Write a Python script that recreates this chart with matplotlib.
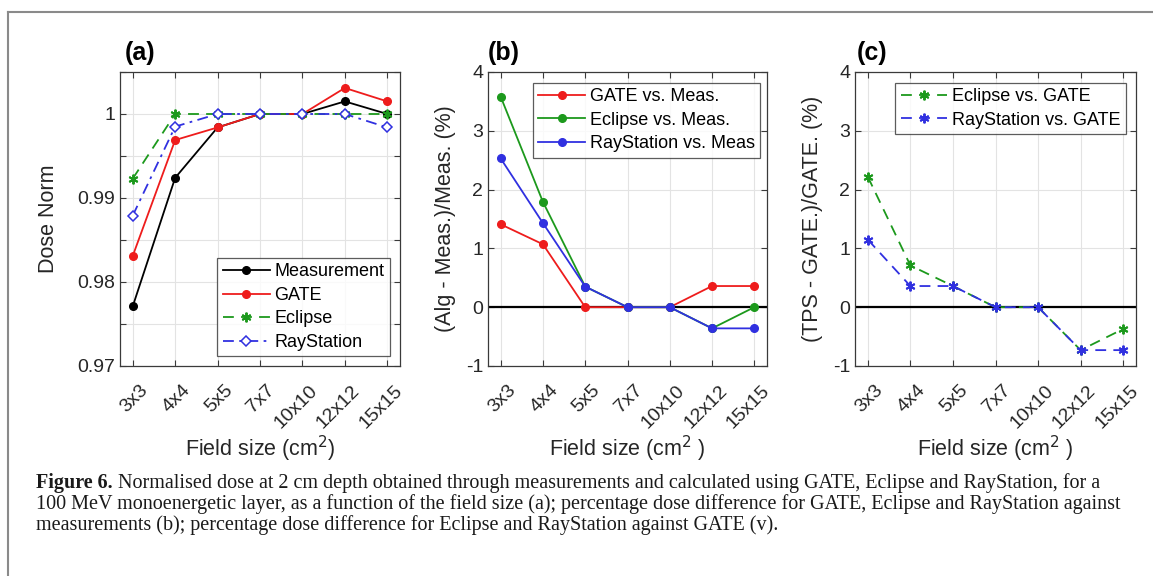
import matplotlib
matplotlib.use("Agg")
import matplotlib.pyplot as plt
from matplotlib.lines import Line2D
from matplotlib.transforms import ScaledTranslation
import numpy as np

plt.rcParams['font.family'] = ['Liberation Sans', 'DejaVu Sans']
plt.rcParams['axes.unicode_minus'] = False

categories = ['3x3', '4x4', '5x5', '7x7', '10x10', '12x12', '15x15']

# panel (a): normalised dose
a_measurement = [0.9771, 0.9924, 0.9984, 1.0, 1.0, 1.0015, 1.0]
a_gate = [0.9831, 0.9969, 0.9984, 1.0, 1.0, 1.0031, 1.0015]
a_eclipse = [0.9923, 1.0, 1.0, 1.0, 1.0, 1.0, 1.0]
a_raystation = [0.9879, 0.9985, 1.0, 1.0, 1.0, 1.0, 0.9984]

# panel (b): (Alg - Meas.)/Meas. (%)
b_gate = [1.41, 1.07, 0.0, 0.0, 0.0, 0.36, 0.36]
b_eclipse = [3.58, 1.79, 0.35, 0.0, 0.0, -0.36, 0.0]
b_raystation = [2.53, 1.43, 0.35, 0.0, 0.0, -0.36, -0.36]

# panel (c): (TPS - GATE.)/GATE. (%)
c_eclipse = [2.22, 0.71, 0.36, 0.0, 0.0, -0.73, -0.37]
c_raystation = [1.15, 0.36, 0.36, 0.0, 0.0, -0.73, -0.73]

RED = '#ee1c1c'
GREEN = '#1c991c'
BLUE = '#3030e0'
AXC = '#3a3a3a'
TXT = '#262626'
ASTER = (6, 2, 0)

W, H = 1153, 576
fig = plt.figure(figsize=(W / 100, H / 100), dpi=100)

def px_rect(l, t, r, b):
    return [l / W, 1 - b / H, (r - l) / W, (b - t) / H]

axA = fig.add_axes(px_rect(120, 72, 400, 366))
axB = fig.add_axes(px_rect(488, 72, 767, 366))
axC = fig.add_axes(px_rect(855, 72, 1136, 366))

x = np.arange(1, len(categories) + 1)

def style(ax):
    ax.set_xlim(0.7, 7.3)
    ax.set_xticks(x)
    ax.set_xticklabels(categories, rotation=45, ha='right', va='center',
                       rotation_mode='anchor', fontsize=14)
    ax.tick_params(direction='in', top=True, right=True, length=4,
                   color=AXC, labelcolor=TXT, labelsize=14, width=0.8)
    ax.tick_params(axis='x', pad=12)
    off = ScaledTranslation(0.125, -0.05, fig.dpi_scale_trans)
    for lbl in ax.get_xticklabels():
        lbl.set_transform(lbl.get_transform() + off)
    for s in ax.spines.values():
        s.set_color(AXC)
        s.set_linewidth(0.9)
    ax.grid(True, color='#e3e3e3', linewidth=0.8)
    ax.set_axisbelow(True)

def legend(ax, loc, anchor):
    leg = ax.legend(loc=loc, bbox_to_anchor=anchor, fontsize=13,
                    frameon=True, fancybox=False, edgecolor='#333333', handlelength=2.6,
                    labelspacing=0.36, borderpad=0.3, handletextpad=0.25, borderaxespad=0)
    leg.get_frame().set_linewidth(0.9)
    return leg

# ---- (a)
axA.plot(x, a_measurement, '-o', color='k', lw=1.3, ms=5.5, label='Measurement')
axA.plot(x, a_gate, '-o', color=RED, lw=1.3, ms=5.5, label='GATE')
axA.plot(x, a_eclipse, '--', marker=ASTER, color=GREEN, lw=1.3, ms=7, mew=1.4,
         dashes=(6, 4), label='Eclipse')
axA.plot(x, a_raystation, '-.D', color=BLUE, lw=1.3, ms=5.5, mfc='white', mew=1.1,
         dashes=(6, 3, 1.5, 3), label='RayStation')
style(axA)
axA.set_ylim(0.97, 1.005)
yt = np.round(np.arange(0.97, 1.0051, 0.005), 3)
axA.set_yticks(yt)
axA.set_yticklabels([('%g' % v) if abs(v * 100 - round(v * 100)) < 1e-6 else '' for v in yt])
axA.set_ylabel('Dose Norm', fontsize=15.5, color=TXT, labelpad=13)
axA.set_xlabel('Field size (cm$^2$)', fontsize=15.5, color=TXT, labelpad=1.5)
legend(axA, 'lower right', (0.963, 0.033))
axA.text(0.018, 1.025, '(a)', transform=axA.transAxes, fontsize=18, fontweight='bold',
         ha='left', va='bottom')

# ---- (b)
axB.axhline(0, color='k', lw=1.6, zorder=1.5)
axB.plot(x, b_gate, '-o', color=RED, lw=1.3, ms=5.5, label='GATE vs. Meas.')
axB.plot(x, b_eclipse, '-o', color=GREEN, lw=1.3, ms=5.5, label='Eclipse vs. Meas.')
axB.plot(x, b_raystation, '-o', color=BLUE, lw=1.3, ms=5.5, label='RayStation vs. Meas')
style(axB)
axB.set_ylim(-1, 4)
axB.set_yticks(np.arange(-1, 5, 1))
axB.set_ylabel('(Alg - Meas.)/Meas. (%)', fontsize=15.5, color=TXT, labelpad=7)
axB.set_xlabel('Field size (cm$^2$ )', fontsize=15.5, color=TXT, labelpad=1.5)
legend(axB, 'upper right', (0.975, 0.963))
axB.text(0.0, 1.025, '(b)', transform=axB.transAxes, fontsize=18, fontweight='bold',
         ha='left', va='bottom')

# ---- (c)
axC.axhline(0, color='k', lw=1.6, zorder=1.5)
axC.plot(x, c_eclipse, '--', marker=ASTER, color=GREEN, lw=1.3, ms=7, mew=1.4,
         dashes=(6, 4), label='Eclipse vs. GATE')
axC.plot(x, c_raystation, '--', marker=ASTER, color=BLUE, lw=1.3, ms=7, mew=1.4,
         dashes=(6, 4), label='RayStation vs. GATE')
style(axC)
axC.set_ylim(-1, 4)
axC.set_yticks(np.arange(-1, 5, 1))
axC.set_ylabel('(TPS - GATE.)/GATE. (%)', fontsize=15.5, color=TXT, labelpad=7)
axC.set_xlabel('Field size (cm$^2$ )', fontsize=15.5, color=TXT, labelpad=1.5)
legend(axC, 'upper right', (0.964, 0.963))
axC.text(0.007, 1.025, '(c)', transform=axC.transAxes, fontsize=18, fontweight='bold',
         ha='left', va='bottom')

# ---- frame lines of the figure box
fig.add_artist(Line2D([8 / W, 1.0], [1 - 12 / H, 1 - 12 / H], transform=fig.transFigure,
                      color='#8a8a8a', lw=1.5))
fig.add_artist(Line2D([8 / W, 8 / W], [1 - 12 / H, 0.0], transform=fig.transFigure,
                      color='#8a8a8a', lw=1.5))

# ---- caption
cap_bold = 'Figure 6.'
cap_lines = [
    ' Normalised dose at 2 cm depth obtained through measurements and calculated using GATE, Eclipse and RayStation, for a',
    '100 MeV monoenergetic layer, as a function of the field size (a); percentage dose difference for GATE, Eclipse and RayStation against',
    'measurements (b); percentage dose difference for Eclipse and RayStation against GATE (v).',
]
cap_x = 36
cap_y = [483, 504, 525]
target_w = 1123 - 36
renderer = fig.canvas.get_renderer()
probe = fig.text(0, 0, cap_lines[1], fontsize=10, family='Liberation Serif')
wl2 = probe.get_window_extent(renderer).width
probe.remove()
fs = 10 * target_w / wl2
tb = fig.text(cap_x / W, 1 - cap_y[0] / H, cap_bold, fontsize=fs, family='Liberation Serif',
              fontweight='bold', va='center', ha='left', color='#1a1a1a')
wb2 = tb.get_window_extent(renderer).width
fig.text((cap_x + wb2) / W, 1 - cap_y[0] / H, cap_lines[0], fontsize=fs,
         family='Liberation Serif', va='center', ha='left', color='#1a1a1a')
for line, yy in zip(cap_lines[1:], cap_y[1:]):
    fig.text(cap_x / W, 1 - yy / H, line, fontsize=fs, family='Liberation Serif',
             va='center', ha='left', color='#1a1a1a')

fig.savefig('out.png', dpi=100)
